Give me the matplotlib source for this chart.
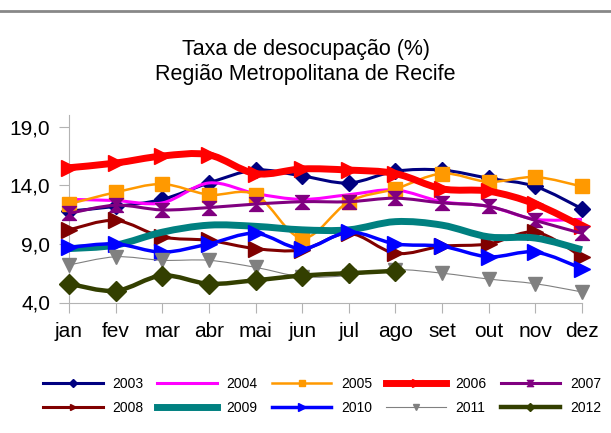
import numpy as np
import matplotlib
matplotlib.use("Agg")
import matplotlib.pyplot as plt
from matplotlib.path import Path
from matplotlib.patches import PathPatch
from matplotlib.lines import Line2D

plt.rcParams["font.family"] = ["Liberation Sans", "DejaVu Sans"]

# ── Data ──────────────────────────────────────────────────────────────────────
MONTHS = ["jan", "fev", "mar", "abr", "mai", "jun", "jul", "ago", "set", "out", "nov", "dez"]
YEARS  = ["2003", "2004", "2005", "2006", "2007", "2008", "2009", "2010", "2011", "2012"]

Y2003 = [11.8, 12.2, 12.8, 14.2, 15.3, 14.8, 14.2, 15.2, 15.3, 14.6, 13.9, 12.0]
Y2004 = [12.8, 12.7, 12.5, 14.2, 13.3, 12.8, 13.2, 13.6, 12.6, 12.2, 11.1, 11.1]
Y2005 = [12.4, 13.4, 14.1, 13.2, 13.2, 9.5, 12.6, 13.7, 15.0, 14.3, 14.7, 13.9]
Y2006 = [15.5, 15.9, 16.5, 16.6, 15.0, 15.4, 15.3, 15.0, 13.7, 13.5, 12.4, 10.5]
Y2007 = [11.6, 12.3, 11.9, 12.1, 12.4, 12.6, 12.6, 12.9, 12.5, 12.2, 11.0, 9.9]
Y2008 = [10.2, 11.0, 9.6, 9.3, 8.6, 8.5, 9.9, 8.2, 8.8, 9.0, 10.0, 7.9]
Y2009 = [8.6, 8.9, 10.0, 10.6, 10.5, 10.2, 10.2, 10.9, 10.6, 9.6, 9.5, 8.5]
Y2010 = [8.7, 9.0, 8.3, 9.0, 9.9, 8.6, 10.0, 9.0, 8.8, 7.9, 8.3, 6.9]
Y2011 = [7.2, 7.9, 7.6, 7.6, 7.0, 6.2, 6.3, 6.8, 6.5, 6.0, 5.6, 4.9]
Y2012 = [5.6, 5.0, 6.3, 5.6, 5.9, 6.3, 6.5, 6.7]

YTICKS       = [4, 9, 14, 19]
YTICK_LABELS = ["4,0", "9,0", "14,0", "19,0"]

TITLE = "Taxa de desocupação (%)\nRegião Metropolitana de Recife"

# ── Styles ────────────────────────────────────────────────────────────────────
HOURGLASS = Path([(-1, 1), (1, 1), (-1, -1), (1, -1), (-1, 1)],
                 [Path.MOVETO, Path.LINETO, Path.LINETO, Path.LINETO, Path.CLOSEPOLY])

STYLES = {
    "2003": dict(color="#000080", lw=2.2, marker="D", ms=8),
    "2004": dict(color="#ff00ff", lw=2.2, marker=None, ms=0),
    "2005": dict(color="#ff9900", lw=1.8, marker="s", ms=9.5),
    "2006": dict(color="#ff0000", lw=5.0, marker=">", ms=12),
    "2007": dict(color="#800080", lw=2.2, marker=HOURGLASS, ms=10),
    "2008": dict(color="#800000", lw=2.2, marker=">", ms=11),
    "2009": dict(color="#008080", lw=5.0, marker=None, ms=0),
    "2010": dict(color="#0000ff", lw=2.5, marker=">", ms=12),
    "2011": dict(color="#808080", lw=0.8, marker="v", ms=10),
    "2012": dict(color="#333f00", lw=3.2, marker="D", ms=10),
}
AXIS_GRAY = "#b3b3b3"


def smooth_path(x, y):
    # Catmull-Rom curve through the points, drawn as cubic Bezier segments
    pts = np.column_stack([x, y]).astype(float)
    n = len(pts)
    verts = [pts[0]]
    codes = [Path.MOVETO]
    for i in range(n - 1):
        p0 = pts[i - 1] if i > 0 else pts[i]
        p1 = pts[i]
        p2 = pts[i + 1]
        p3 = pts[i + 2] if i + 2 < n else pts[i + 1]
        verts += [p1 + (p2 - p0) / 6, p2 - (p3 - p1) / 6, p2]
        codes += [Path.CURVE4] * 3
    return Path(verts, codes)


series = dict(zip(YEARS, [Y2003, Y2004, Y2005, Y2006, Y2007, Y2008, Y2009, Y2010, Y2011, Y2012]))

fig = plt.figure(figsize=(6.11, 4.33), dpi=100)
ax = fig.add_axes([69 / 611, (433 - 302.5) / 433, 513 / 611, 187.5 / 433])

handles = []
for z, (year, vals) in enumerate(series.items()):
    st = STYLES[year]
    x = np.arange(len(vals))
    patch = PathPatch(smooth_path(x, vals), fill=False, edgecolor=st["color"],
                      lw=st["lw"], zorder=3 + z, clip_on=False, joinstyle="round")
    ax.add_patch(patch)
    if st["marker"] is not None:
        ax.plot(x, vals, linestyle="none", marker=st["marker"], ms=st["ms"],
                color=st["color"], mec=st["color"], zorder=3 + z + 0.5, clip_on=False)
    handles.append(Line2D([], [], color=st["color"], lw=st["lw"],
                          marker=st["marker"], ms=st["ms"] * 0.45 if st["marker"] is not None else 0))

ax.set_xlim(0, len(MONTHS) - 1)
ax.set_ylim(4, 20)
ax.set_xticks(range(len(MONTHS)))
ax.set_xticklabels(MONTHS)
ax.set_yticks(YTICKS)
ax.set_yticklabels(YTICK_LABELS)
ax.tick_params(axis="both", direction="out", length=7, width=0.8, color=AXIS_GRAY, labelsize=15)
ax.tick_params(axis="x", pad=7)
ax.tick_params(axis="y", pad=6.5)
for side in ["top", "right"]:
    ax.spines[side].set_visible(False)
for side in ["left", "bottom"]:
    ax.spines[side].set_color(AXIS_GRAY)
    ax.spines[side].set_linewidth(0.8)

fig.text(0.5, 1 - 62 / 433, TITLE, ha="center", va="center", fontsize=15.5, linespacing=1.3)

# reorder so the legend fills row by row (5 per row)
order = [i for pair in zip(range(5), range(5, 10)) for i in pair]
fig.legend([handles[i] for i in order], [YEARS[i] for i in order], ncol=5,
           loc="center", bbox_to_anchor=(0.527, 1 - 396 / 433), frameon=False,
           fontsize=10, handlelength=4.3, handletextpad=0.7, columnspacing=1.0,
           labelspacing=0.75)

fig.add_artist(Line2D([0, 1], [1 - 11 / 433, 1 - 11 / 433], transform=fig.transFigure,
                      color="#888888", lw=2))

fig.savefig("out.png", dpi=100)
